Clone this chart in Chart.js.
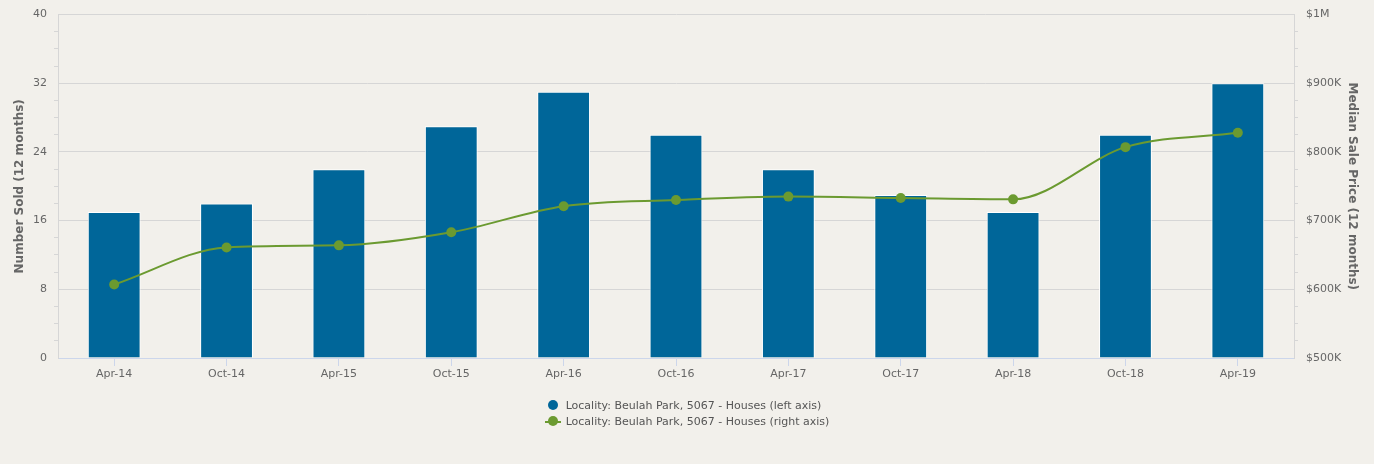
<!DOCTYPE html>
<html>
<head>
<meta charset="utf-8">
<script src="https://cdn.jsdelivr.net/npm/chart.js@4.4.1/dist/chart.umd.min.js"></script>
<style>
  body { margin: 0; background: #f2f0eb; }
  #wrap { position: relative; width: 1374px; height: 464px; }
  #legend { position: absolute; left: 0; top: 398px; width: 1374px; text-align: center; font: 11px 'DejaVu Sans', sans-serif; color: #555; }
  #legend .box { display: inline-block; text-align: left; }
  #legend .item { height: 16px; line-height: 16px; white-space: nowrap; }
  #legend .sym { display: inline-block; position: relative; width: 16px; height: 16px; vertical-align: top; margin-right: 5px; }
  #legend .dot { position: absolute; left: 3px; top: 2px; width: 10px; height: 10px; border-radius: 50%; }
  #legend .ln { position: absolute; left: 0; top: 7px; width: 16px; height: 2px; }
</style>
</head>
<body>
<div id="wrap">
  <canvas id="chart" width="1374" height="464"></canvas>
  <div id="legend"></div>
</div>
<script>
const periods = ['Apr-14', 'Oct-14', 'Apr-15', 'Oct-15', 'Apr-16', 'Oct-16', 'Apr-17', 'Oct-17', 'Apr-18', 'Oct-18', 'Apr-19'];
const numberSold = [17, 18, 22, 27, 31, 26, 22, 19, 17, 26, 32];
const medianPrice = [607000, 661000, 664000, 683000, 721000, 730000, 735000, 733000, 731000, 807000, 828000];

const barLabel = 'Locality: Beulah Park, 5067 - Houses (left axis)';
const lineLabel = 'Locality: Beulah Park, 5067 - Houses (right axis)';

const barColor = '#006699';
const lineColor = '#6b9a30';
const gridColor = '#d6d6d6';
const textColor = '#666666';

Chart.defaults.font.family = "'DejaVu Sans', sans-serif";
Chart.defaults.color = textColor;

function priceLabel(v) {
    if (v >= 1000000) return '$' + (v / 1000000) + 'M';
    return '$' + (v / 1000) + 'K';
}

const ctx = document.getElementById('chart').getContext('2d');
const chart = new Chart(ctx, {
    type: 'bar',
    data: {
        labels: periods,
        datasets: [{
            type: 'line',
            label: lineLabel,
            data: medianPrice,
            yAxisID: 'y1',
            borderColor: lineColor,
            backgroundColor: lineColor,
            borderWidth: 2,
            pointRadius: 5,
            pointHoverRadius: 6,
            pointBackgroundColor: lineColor,
            pointBorderWidth: 0,
            cubicInterpolationMode: 'monotone',
            order: 0
        }, {
            label: barLabel,
            data: numberSold,
            yAxisID: 'y',
            backgroundColor: barColor,
            borderColor: '#ffffff',
            borderWidth: 1,
            barPercentage: 0.47,
            categoryPercentage: 1,
            order: 1
        }]
    },
    options: {
        responsive: false,
        animation: false,
        layout: { padding: { top: 14, bottom: 79, left: 0, right: 0 } },
        plugins: {
            legend: { display: false },
            tooltip: { enabled: true }
        },
        scales: {
            x: {
                offset: true,
                afterFit: function(scale) { scale.height = 27; },
                grid: {
                    offset: false,
                    drawOnChartArea: false,
                    tickLength: 8,
                    tickColor: '#ccd6eb'
                },
                border: { color: '#ccd6eb' },
                ticks: { font: { size: 11 }, color: textColor, padding: 2, maxRotation: 0, autoSkip: false }
            },
            y: {
                position: 'left',
                min: 0,
                max: 40,
                afterFit: function(scale) { scale.width = 58; },
                ticks: {
                    stepSize: 2,
                    autoSkip: false,
                    font: { size: 11 },
                    color: textColor,
                    padding: 7,
                    callback: function(v) { return v % 8 === 0 ? v : ''; }
                },
                grid: {
                    tickLength: 4,
                    color: function(c) { return c.tick && c.tick.value % 8 === 0 ? gridColor : 'rgba(0,0,0,0)'; },
                    tickColor: function(c) { return c.tick && c.tick.value % 8 === 0 ? 'rgba(0,0,0,0)' : gridColor; }
                },
                border: { color: gridColor },
                title: {
                    display: true,
                    text: 'Number Sold (12 months)',
                    font: { size: 12, weight: 'bold' },
                    color: textColor,
                    padding: { top: 13, bottom: 4 }
                }
            },
            y1: {
                position: 'right',
                min: 500000,
                max: 1000000,
                afterFit: function(scale) { scale.width = 80; },
                ticks: {
                    stepSize: 25000,
                    autoSkip: false,
                    font: { size: 11 },
                    color: textColor,
                    padding: 8,
                    callback: function(v) { return v % 100000 === 0 ? priceLabel(v) : ''; }
                },
                grid: {
                    drawOnChartArea: false,
                    tickLength: 4,
                    tickColor: function(c) { return c.tick && c.tick.value % 100000 === 0 ? 'rgba(0,0,0,0)' : gridColor; }
                },
                border: { color: gridColor },
                title: {
                    display: true,
                    text: 'Median Sale Price (12 months)',
                    font: { size: 12, weight: 'bold' },
                    color: textColor,
                    padding: { top: 15, bottom: 4 }
                }
            }
        }
    }
});

// html legend, stacked like the original
const legendBox = document.createElement('div');
legendBox.className = 'box';
[barLabel, lineLabel].forEach(function(label, i) {
    const item = document.createElement('div');
    item.className = 'item';
    const sym = document.createElement('span');
    sym.className = 'sym';
    if (i === 1) {
        const ln = document.createElement('span');
        ln.className = 'ln';
        ln.style.background = lineColor;
        sym.appendChild(ln);
    }
    const dot = document.createElement('span');
    dot.className = 'dot';
    dot.style.background = i === 0 ? barColor : lineColor;
    sym.appendChild(dot);
    item.appendChild(sym);
    item.appendChild(document.createTextNode(label));
    legendBox.appendChild(item);
});
document.getElementById('legend').appendChild(legendBox);
</script>
</body>
</html>
